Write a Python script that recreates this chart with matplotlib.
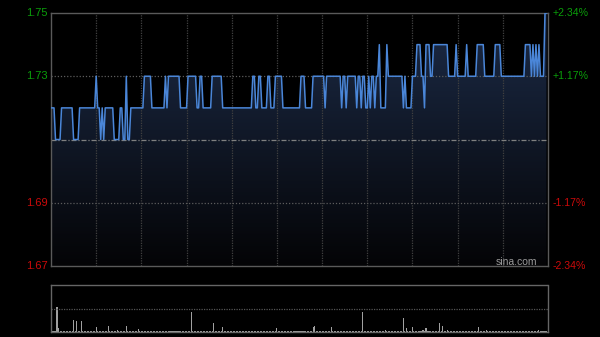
import matplotlib
matplotlib.use("Agg")
import matplotlib.pyplot as plt
import numpy as np
from matplotlib.colors import LinearSegmentedColormap
from matplotlib.patches import Polygon

plt.rcParams['font.family'] = ['Liberation Sans', 'DejaVu Sans']

# ===== DATA =====
prev_close = 1.71
n_minutes = 330
left_ticks = [1.75, 1.73, 1.69, 1.67]
left_labels = ["1.75", "1.73", "1.69", "1.67"]
right_labels = ["+2.34%", "+1.17%", "-1.17%", "-2.34%"]

# (minute where the price changes, new price)
price_steps = [
    (0, 1.72), (3, 1.71), (7, 1.72), (15, 1.71), (19, 1.72), (30, 1.73), (31, 1.72),
    (33, 1.71), (34, 1.72), (35, 1.71), (36, 1.72), (42, 1.71), (46, 1.72), (48, 1.71),
    (50, 1.73), (51, 1.71), (53, 1.72), (62, 1.73), (67, 1.72), (76, 1.73), (77, 1.72),
    (78, 1.73), (86, 1.72), (91, 1.73), (97, 1.72), (99, 1.73), (101, 1.72), (107, 1.73),
    (114, 1.72), (134, 1.73), (136, 1.72), (138, 1.73), (140, 1.72), (144, 1.73),
    (146, 1.72), (149, 1.73), (154, 1.72), (166, 1.73), (169, 1.72), (174, 1.73),
    (182, 1.72), (183, 1.73), (193, 1.72), (194, 1.73), (196, 1.72), (197, 1.73),
    (203, 1.72), (204, 1.73), (206, 1.72), (207, 1.73), (209, 1.72), (211, 1.73),
    (212, 1.72), (213, 1.73), (215, 1.72), (216, 1.73), (218, 1.74), (219, 1.72),
    (223, 1.74), (224, 1.73), (234, 1.72), (235, 1.73), (236, 1.72), (240, 1.73),
    (243, 1.74), (246, 1.73), (248, 1.72), (249, 1.74), (252, 1.73), (254, 1.74),
    (264, 1.73), (269, 1.74), (270, 1.73), (276, 1.74), (277, 1.73), (283, 1.74),
    (288, 1.73), (295, 1.74), (299, 1.73), (315, 1.74), (319, 1.73), (320, 1.74),
    (321, 1.73), (322, 1.74), (323, 1.73), (324, 1.74), (325, 1.73), (328, 1.75),
]

# visible volume bars (minute, volume); the rest sit at the base level
volume_spikes = [
    (4, 250000), (5, 40000), (15, 120000), (17, 110000), (20, 110000), (30, 50000),
    (38, 60000), (44, 20000), (50, 60000), (58, 30000), (74, 15000), (93, 200000),
    (108, 90000), (114, 50000), (128, 15000), (150, 40000), (174, 50000), (175, 60000),
    (186, 50000), (207, 200000), (222, 20000), (234, 140000), (236, 40000),
    (240, 50000), (247, 25000), (249, 40000), (258, 90000), (260, 60000), (263, 20000),
    (284, 50000), (289, 25000), (303, 15000), (320, 15000), (324, 25000),
]
base_volume = 12000

# ===== BUILD SERIES =====
minutes = np.arange(n_minutes)
prices = np.zeros(n_minutes)
for start, p in price_steps:
    prices[start:] = p
volumes = np.full(n_minutes, base_volume, dtype=float)
for m, v in volume_spikes:
    volumes[m] = v

green = "#0a9e0a"
red = "#cc0a0a"

fig = plt.figure(figsize=(6, 3.37), dpi=100, facecolor="black")

# ===== PRICE PANEL =====
ax = fig.add_axes([51 / 600, 71 / 337, 497 / 600, 253 / 337])
ax.set_facecolor("black")
ax.set_xlim(0, n_minutes)
ax.set_ylim(1.67, 1.75)
ax.set_xticks([])
ax.set_yticks([])
for s in ax.spines.values():
    s.set_color("#5a5a5a")
    s.set_linewidth(1)

# gradient fill under the line
cmap = LinearSegmentedColormap.from_list("fill", ["#040406", "#1c2b47"])
grad = np.linspace(1, 0, 256).reshape(-1, 1)
im = ax.imshow(grad, extent=[0, n_minutes, 1.67, 1.75], aspect="auto", cmap=cmap,
               origin="upper", zorder=1)
verts = np.vstack([[minutes[0], 1.67], np.column_stack([minutes, prices]),
                   [minutes[-1], 1.67]])
poly = Polygon(verts, closed=True, facecolor="none", edgecolor="none")
ax.add_patch(poly)
im.set_clip_path(poly)

# grid
for k in range(1, 11):
    ax.axvline(30 * k, color="#404040", lw=0.9, ls=(0, (1, 1)), zorder=2)
for y in [1.73, 1.69]:
    ax.axhline(y, color="#5c5c5c", lw=0.9, ls=(0, (1, 1.5)), zorder=2)
ax.axhline(prev_close, color="#808080", lw=0.9, ls=(0, (4, 1.5, 1, 1.5)), zorder=2)

ax.plot(minutes, prices, color="#4a86d8", lw=1.1, zorder=3)

# labels
tr = ax.get_yaxis_transform()
for y, lab in zip(left_ticks, left_labels):
    ax.text(-0.006, y, lab, transform=tr, ha="right", va="center", fontsize=8,
            color=green if y > prev_close else red)
for y, lab in zip(left_ticks, right_labels):
    ax.text(1.01, y, lab, transform=tr, ha="left", va="center", fontsize=7.6,
            color=green if y > prev_close else red)
ax.text(0.978, 0.016, "sina.com", transform=ax.transAxes, ha="right", va="center",
        fontsize=7.5, color="#9a9a9a", zorder=4)

# ===== VOLUME PANEL =====
axv = fig.add_axes([51 / 600, 5 / 337, 497 / 600, 47 / 337])
axv.set_facecolor("black")
axv.set_xlim(0, n_minutes)
axv.set_ylim(0, 470000)
axv.set_xticks([])
axv.set_yticks([])
for s in axv.spines.values():
    s.set_color("#666666")
    s.set_linewidth(1)
axv.spines["top"].set_linestyle((0, (1, 1)))
axv.axhline(235000, color="#555555", lw=0.9, ls=(0, (1, 1)))
axv.bar(minutes, volumes, width=0.7, color="#a0a0a0")

fig.savefig("out.png", dpi=100, facecolor="black")
